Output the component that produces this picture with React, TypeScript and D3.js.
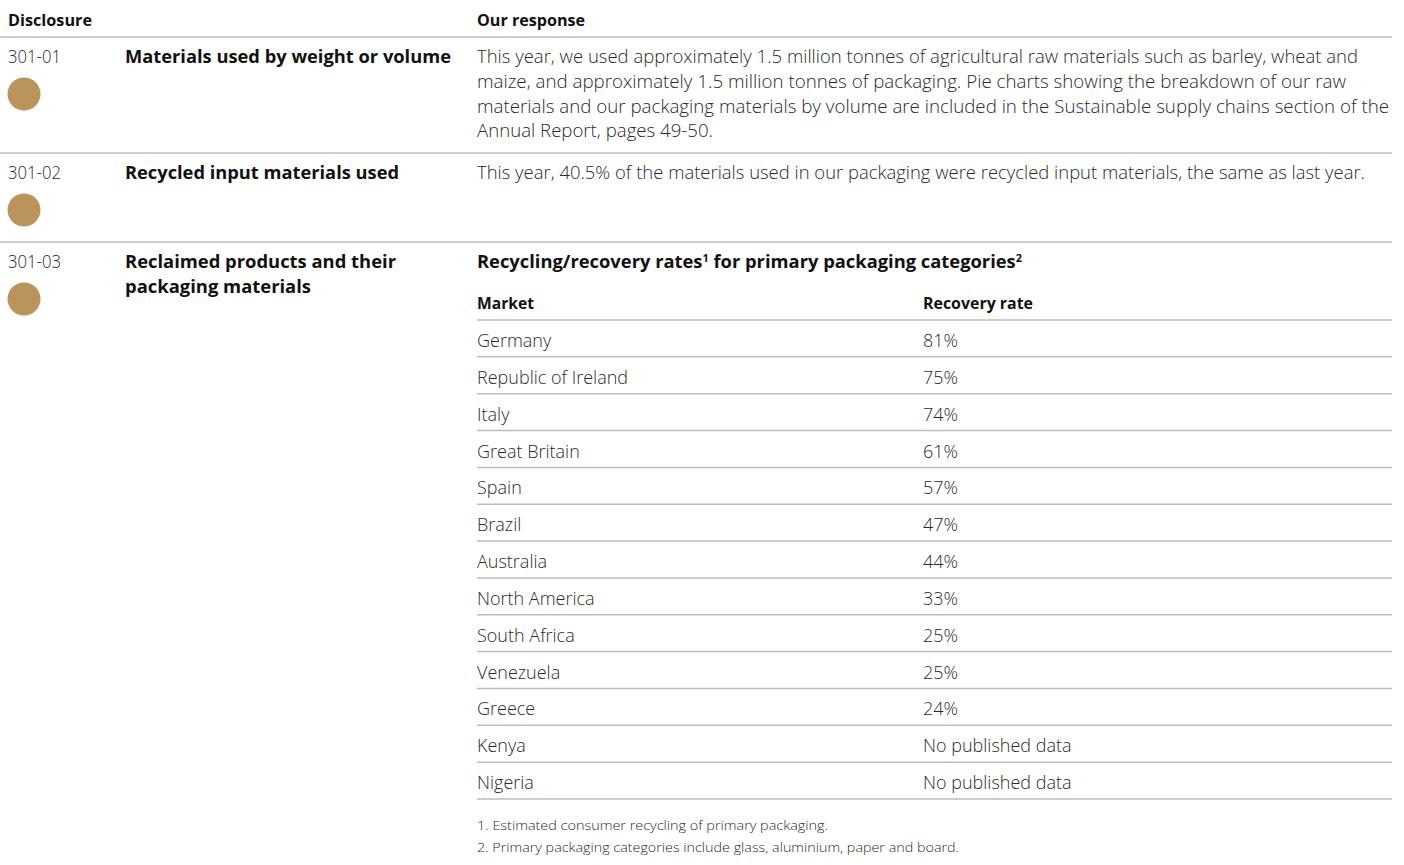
import React from "react";
import * as d3 from "d3";

const markets = [
  "Germany",
  "Republic of Ireland",
  "Italy",
  "Great Britain",
  "Spain",
  "Brazil",
  "Australia",
  "North America",
  "South Africa",
  "Venezuela",
  "Greece",
  "Kenya",
  "Nigeria",
];
const recoveryRates: (number | null)[] = [81, 75, 74, 61, 57, 47, 44, 33, 25, 25, 24, null, null];

const disclosureCodes = ["301-01", "301-02", "301-03"];
const disclosureTitles = [
  ["Materials used by weight or volume"],
  ["Recycled input materials used"],
  ["Reclaimed products and their", "packaging materials"],
];
const response1Lines = [
  "This year, we used approximately 1.5 million tonnes of agricultural raw materials such as barley, wheat and",
  "maize, and approximately 1.5 million tonnes of packaging. Pie charts showing the breakdown of our raw",
  "materials and our packaging materials by volume are included in the Sustainable supply chains section of the",
  "Annual Report, pages 49-50.",
];
const response2 = "This year, 40.5% of the materials used in our packaging were recycled input materials, the same as last year.";
const footnotes = [
  "1. Estimated consumer recycling of primary packaging.",
  "2. Primary packaging categories include glass, aluminium, paper and board.",
];

const GOLD = "#b9955c";
const LINE = "#bdbdbd";
const TEXT = "#2a2a2a";
const BOLD = "#111";
const FONT = "'Open Sans', 'Noto Sans', sans-serif";

export default function App() {
  const W = 1404;
  const H = 865;
  const rowY = d3.scaleBand<string>().domain(markets).range([320, 799]).paddingInner(0).paddingOuter(0);
  const fmt = (v: number | null) => (v == null ? "No published data" : d3.format("d")(v) + "%");

  const sectionTops = [37, 153, 242];
  const respLineY = d3.scaleLinear().domain([0, 1]).range([63, 87.8]);
  const respEnds = [1358, 1346, 1389, 713];

  return (
    <svg
      width={W}
      height={H}
      style={{ position: "absolute", left: 0, top: 0, background: "#fff" }}
      fontFamily={FONT}
    >
      {/* Header */}
      <text x={8} y={26} fontSize={15.5} fontWeight={700} fill={BOLD} textLength={84} lengthAdjust="spacingAndGlyphs">
        Disclosure
      </text>
      <text x={477} y={26} fontSize={15.5} fontWeight={700} fill={BOLD} textLength={108} lengthAdjust="spacingAndGlyphs">
        Our response
      </text>

      {/* Section separators */}
      {sectionTops.map((y, i) => (
        <line key={"sep" + i} x1={0} x2={1392} y1={y} y2={y} stroke={LINE} strokeWidth={1.5} />
      ))}

      {/* Left columns */}
      {disclosureCodes.map((c, i) => {
        const top = sectionTops[i];
        const base = top + 26;
        return (
          <g key={c}>
            <text x={8} y={base} fontSize={17.5} fontWeight={300} fill={TEXT} textLength={53} lengthAdjust="spacingAndGlyphs">
              {c}
            </text>
            <circle cx={24} cy={top + 57} r={16.5} fill={GOLD} />
            {disclosureTitles[i].map((t, j) => {
              const ends = i === 0 ? [451] : i === 1 ? [399] : [396, 311];
              return (
                <text
                  key={t}
                  x={125}
                  y={base + j * 25}
                  fontSize={18.5}
                  fontWeight={700}
                  fill={BOLD}
                  textLength={ends[j] - 125}
                  lengthAdjust="spacingAndGlyphs"
                >
                  {t}
                </text>
              );
            })}
          </g>
        );
      })}

      {/* Response 1 */}
      {response1Lines.map((l, i) => (
        <text
          key={"r1" + i}
          x={477}
          y={respLineY(i)}
          fontSize={18}
          fontWeight={300}
          fill={TEXT}
          textLength={respEnds[i] - 477}
          lengthAdjust="spacingAndGlyphs"
        >
          {l}
        </text>
      ))}

      {/* Response 2 */}
      <text x={477} y={179} fontSize={18} fontWeight={300} fill={TEXT} textLength={1365 - 477} lengthAdjust="spacingAndGlyphs">
        {response2}
      </text>

      {/* Response 3: table */}
      <text x={477} y={268} fontSize={18.5} fontWeight={700} fill={BOLD} textLength={1022 - 477} lengthAdjust="spacingAndGlyphs">
        Recycling/recovery rates
        <tspan fontSize={11} dy={-6}>1</tspan>
        <tspan dy={6}> for primary packaging categories</tspan>
        <tspan fontSize={11} dy={-6}>2</tspan>
      </text>
      <text x={477} y={309} fontSize={16.5} fontWeight={700} fill={BOLD} textLength={57} lengthAdjust="spacingAndGlyphs">
        Market
      </text>
      <text x={923} y={309} fontSize={16.5} fontWeight={700} fill={BOLD} textLength={110} lengthAdjust="spacingAndGlyphs">
        Recovery rate
      </text>
      <line x1={477} x2={1392} y1={320} y2={320} stroke={LINE} strokeWidth={1.5} />
      {markets.map((m, i) => {
        const y0 = rowY(m) as number;
        const y1 = y0 + rowY.bandwidth();
        return (
          <g key={m}>
            <text x={477} y={y0 + 27} fontSize={18} fontWeight={300} fill={TEXT}>
              {m}
            </text>
            <text x={923} y={y0 + 27} fontSize={18} fontWeight={300} fill={TEXT}>
              {fmt(recoveryRates[i])}
            </text>
            <line x1={477} x2={1392} y1={y1} y2={y1} stroke={LINE} strokeWidth={1.5} />
          </g>
        );
      })}

      {/* Footnotes */}
      {footnotes.map((f, i) => (
        <text
          key={"fn" + i}
          x={477}
          y={830 + i * 22}
          fontSize={13.5}
          fontWeight={300}
          fill={TEXT}
          textLength={(i === 0 ? 828 : 959) - 477}
          lengthAdjust="spacingAndGlyphs"
        >
          {f}
        </text>
      ))}
    </svg>
  );
}
